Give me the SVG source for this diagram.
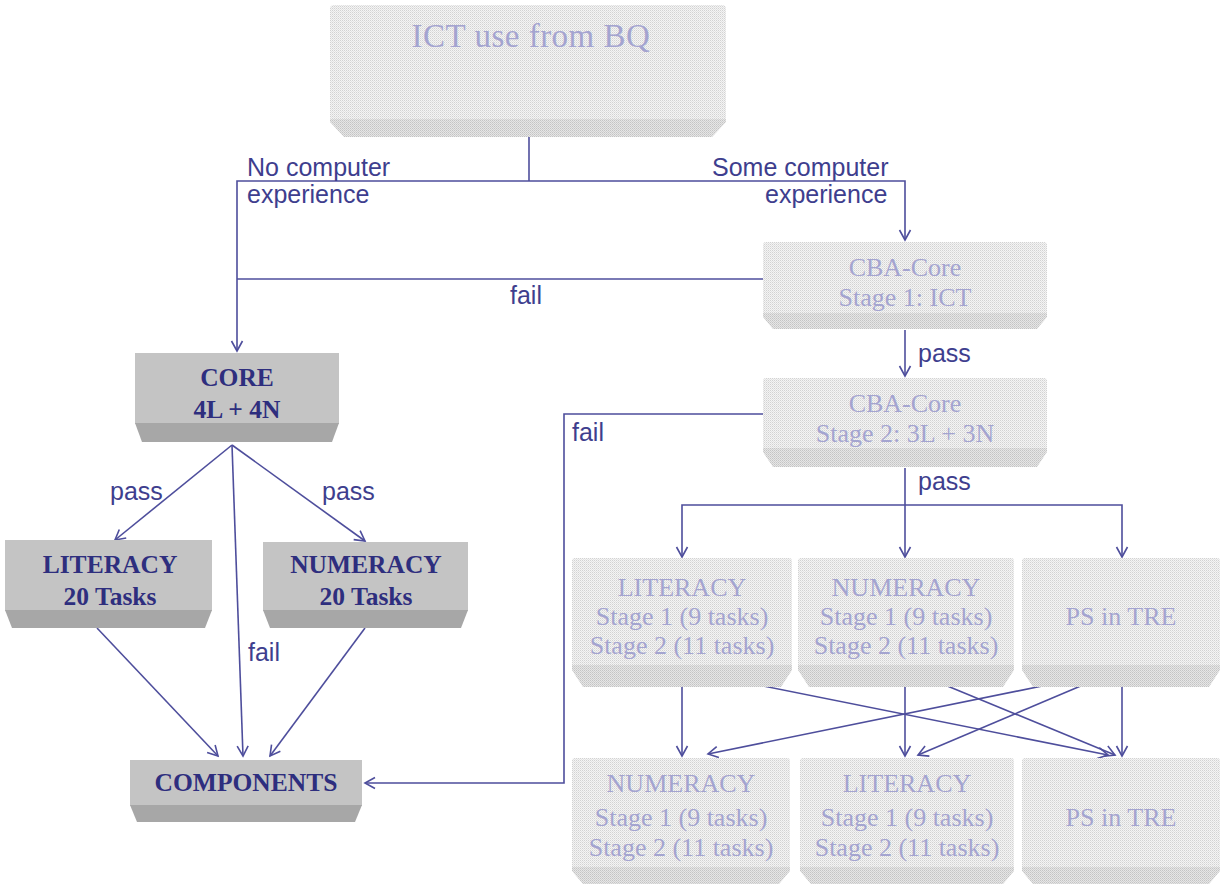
<svg xmlns="http://www.w3.org/2000/svg" width="1226" height="886" viewBox="0 0 1226 886">
<defs>
<pattern id="dotFace" width="2" height="2" patternUnits="userSpaceOnUse">
<rect width="2" height="2" fill="#f4f4f4"/><rect width="1" height="1" fill="#d2d2d2"/><rect x="1" y="1" width="1" height="1" fill="#e2e2e2"/>
</pattern>
<pattern id="dotBevel" width="2" height="2" patternUnits="userSpaceOnUse">
<rect width="2" height="2" fill="#e6e6e6"/><rect width="1" height="1" fill="#c4c4c4"/><rect x="1" y="1" width="1" height="1" fill="#d0d0d0"/>
</pattern>
<marker id="arr" markerWidth="14" markerHeight="14" refX="12" refY="7" orient="auto" markerUnits="userSpaceOnUse">
<path d="M2,1.5 L12,7 L2,12.5" fill="none" stroke="#4e4e9c" stroke-width="1.6"/>
</marker>
<style>
.conn{stroke:#4e4e9c;stroke-width:1.6;fill:none}
.arw{marker-end:url(#arr)}
.lbl{font-family:"Liberation Sans",Arial,sans-serif;font-size:25px;fill:#3e3e8e}
.sface{fill:#c4c4c4}
.sbev{fill:#a7a7a7}
.stxt{font-family:"Liberation Serif","Times New Roman",serif;font-weight:bold;font-size:25.5px;fill:#2e2e7e;text-anchor:middle}
.dface{fill:url(#dotFace)}
.dbev{fill:url(#dotBevel)}
.dtxt{font-family:"Liberation Serif","Times New Roman",serif;font-size:26px;fill:#a4a4d0;text-anchor:middle}
</style>
</defs>
<rect width="1226" height="886" fill="#ffffff"/>

<g id="connectors">
<path class="conn" d="M529,137 V181"/>
<path class="conn arw" d="M529,181 H237 V351"/>
<path class="conn arw" d="M529,181 H905 V240"/>
<path class="conn" d="M763,279 H237"/>
<path class="conn arw" d="M905,330 V376"/>
<path class="conn arw" d="M763,414 H564 V783 H365"/>
<path class="conn" d="M905,468 V505"/>
<path class="conn arw" d="M905,505 H682 V557"/>
<path class="conn arw" d="M905,505 V557"/>
<path class="conn arw" d="M905,505 H1122 V557"/>
<path class="conn arw" d="M682,687 V756"/>
<path class="conn arw" d="M905,687 V756"/>
<path class="conn arw" d="M1122,687 V756"/>
<path class="conn arw" d="M758,685 L1108,755"/>
<path class="conn arw" d="M945,685 L1115,755"/>
<path class="conn arw" d="M1047,685 L708,754"/>
<path class="conn arw" d="M1083,685 L918,755"/>
<path class="conn arw" d="M232,445 L115,540"/>
<path class="conn arw" d="M232,445 L365,541"/>
<path class="conn arw" d="M232,445 L243,756"/>
<path class="conn arw" d="M97,628 L218,756"/>
<path class="conn arw" d="M365,628 L270,756"/>
</g>

<g id="labels">
<text class="lbl" x="247" y="176">No computer</text>
<text class="lbl" x="247" y="203">experience</text>
<text class="lbl" x="712" y="176">Some computer</text>
<text class="lbl" x="765" y="203">experience</text>
<text class="lbl" x="510" y="304">fail</text>
<text class="lbl" x="918" y="362">pass</text>
<text class="lbl" x="572" y="441">fail</text>
<text class="lbl" x="918" y="490">pass</text>
<text class="lbl" x="110" y="500">pass</text>
<text class="lbl" x="322" y="500">pass</text>
<text class="lbl" x="248" y="661">fail</text>
</g>

<g id="ict">
<rect class="dface" x="330" y="5" width="396" height="116" rx="4"/>
<polygon class="dbev" points="330,119 726,119 726,122 712,137 344,137 330,122"/>
<text class="dtxt" x="531" y="47" style="font-size:33px;letter-spacing:0.5px">ICT use from BQ</text>
</g>

<g id="cba1">
<rect class="dface" x="763" y="242" width="284" height="73" rx="3"/>
<polygon class="dbev" points="763,313 1047,313 1047,317 1037,329 773,329 763,317"/>
<text class="dtxt" x="905" y="276">CBA-Core</text>
<text class="dtxt" x="905" y="306">Stage 1: ICT</text>
</g>

<g id="cba2">
<rect class="dface" x="763" y="378" width="284" height="72" rx="3"/>
<polygon class="dbev" points="763,448 1047,448 1047,452 1037,467 773,467 763,452"/>
<text class="dtxt" x="905" y="412">CBA-Core</text>
<text class="dtxt" x="905" y="442">Stage 2: 3L + 3N</text>
</g>

<g id="lit-mid">
<rect class="dface" x="572" y="558" width="220" height="110" rx="3"/>
<polygon class="dbev" points="572,665 792,665 792,670 781,687 583,687 572,670"/>
<text class="dtxt" x="682" y="596">LITERACY</text>
<text class="dtxt" x="682" y="625">Stage 1 (9 tasks)</text>
<text class="dtxt" x="682" y="654">Stage 2 (11 tasks)</text>
</g>

<g id="num-mid">
<rect class="dface" x="798" y="558" width="216" height="110" rx="3"/>
<polygon class="dbev" points="798,665 1014,665 1014,670 1003,687 809,687 798,670"/>
<text class="dtxt" x="906" y="596">NUMERACY</text>
<text class="dtxt" x="906" y="625">Stage 1 (9 tasks)</text>
<text class="dtxt" x="906" y="654">Stage 2 (11 tasks)</text>
</g>

<g id="ps-mid">
<rect class="dface" x="1022" y="558" width="198" height="110" rx="3"/>
<polygon class="dbev" points="1022,665 1220,665 1220,670 1209,687 1033,687 1022,670"/>
<text class="dtxt" x="1121" y="625">PS in TRE</text>
</g>

<g id="num-bot">
<rect class="dface" x="572" y="758" width="218" height="112" rx="3"/>
<polygon class="dbev" points="572,867 790,867 790,871 779,884 583,884 572,871"/>
<text class="dtxt" x="681" y="792">NUMERACY</text>
<text class="dtxt" x="681" y="826">Stage 1 (9 tasks)</text>
<text class="dtxt" x="681" y="856">Stage 2 (11 tasks)</text>
</g>

<g id="lit-bot">
<rect class="dface" x="800" y="758" width="214" height="112" rx="3"/>
<polygon class="dbev" points="800,867 1014,867 1014,871 1003,884 811,884 800,871"/>
<text class="dtxt" x="907" y="792">LITERACY</text>
<text class="dtxt" x="907" y="826">Stage 1 (9 tasks)</text>
<text class="dtxt" x="907" y="856">Stage 2 (11 tasks)</text>
</g>

<g id="ps-bot">
<rect class="dface" x="1022" y="758" width="198" height="112" rx="3"/>
<polygon class="dbev" points="1022,867 1220,867 1220,871 1209,884 1033,884 1022,871"/>
<text class="dtxt" x="1121" y="826">PS in TRE</text>
</g>

<g id="core">
<rect class="sface" x="135" y="353" width="204" height="71"/>
<polygon class="sbev" points="135,423 339,423 332,442 142,442"/>
<text class="stxt" x="237" y="386">CORE</text>
<text class="stxt" x="237" y="418">4L + 4N</text>
</g>

<g id="lit-left">
<rect class="sface" x="5" y="540" width="207" height="71"/>
<polygon class="sbev" points="5,610 212,610 205,628 12,628"/>
<text class="stxt" x="110" y="573">LITERACY</text>
<text class="stxt" x="110" y="605">20 Tasks</text>
</g>

<g id="num-left">
<rect class="sface" x="263" y="542" width="205" height="69"/>
<polygon class="sbev" points="263,610 468,610 461,628 270,628"/>
<text class="stxt" x="366" y="573">NUMERACY</text>
<text class="stxt" x="366" y="605">20 Tasks</text>
</g>

<g id="components">
<rect class="sface" x="130" y="760" width="232" height="46"/>
<polygon class="sbev" points="130,805 362,805 355,822 137,822"/>
<text class="stxt" x="246" y="791">COMPONENTS</text>
</g>
</svg>
